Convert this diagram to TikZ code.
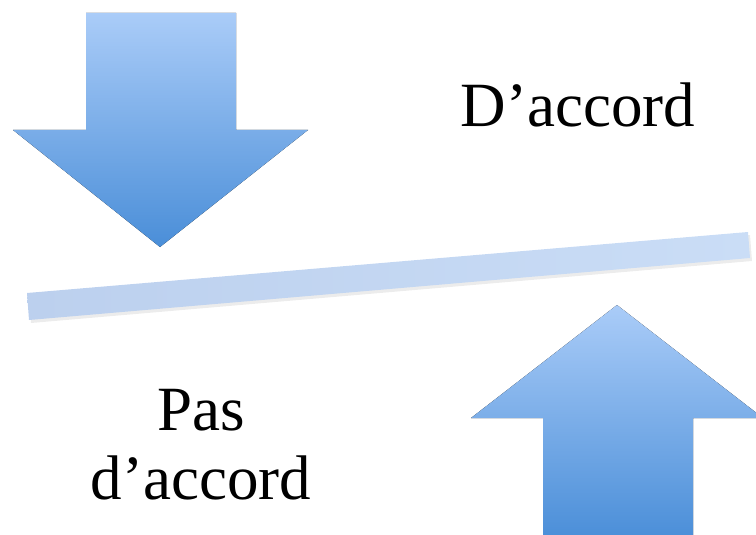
\documentclass[tikz,border=0pt]{standalone}
\usepackage{fontspec}
\setmainfont{Liberation Serif}
\usepackage{tikz}
\definecolor{arrowtop}{RGB}{170,204,248}
\definecolor{arrowbot}{RGB}{74,142,216}
\definecolor{barleft}{RGB}{188,208,238}
\definecolor{barright}{RGB}{202,221,246}
\tikzset{
	bigarrow/.style={top color=arrowtop,bottom color=arrowbot,draw=none},
	label/.style={inner sep=0pt,font=\fontsize{63}{69}\selectfont,align=center}
}
\begin{document}
\begin{tikzpicture}[x=1pt,y=-1pt]
	\useasboundingbox (0,0) rectangle (756,535);
	\fill[bigarrow] (86,13) -- (236,13) -- (236,130) -- (308,130) -- (160,247) -- (13,130) -- (86,130) -- cycle;
	\fill[bigarrow] (617,305) -- (763,418) -- (693,418) -- (693,540) -- (543,540) -- (543,418) -- (471,418) -- cycle;
	% the bar
	\fill[black!15,opacity=0.5] (29,296) -- (750,235) -- (752,261) -- (31,323) -- cycle;
	\shade[left color=barleft,right color=barright] (27,293) -- (748,232) -- (750,258) -- (29,320) -- cycle;
	\node[label,anchor=base] (agree) at (578,127) {D’accord};
	\node[label,anchor=base] (disagree) at (201,499) {Pas\\d’accord};
\end{tikzpicture}
\end{document}
